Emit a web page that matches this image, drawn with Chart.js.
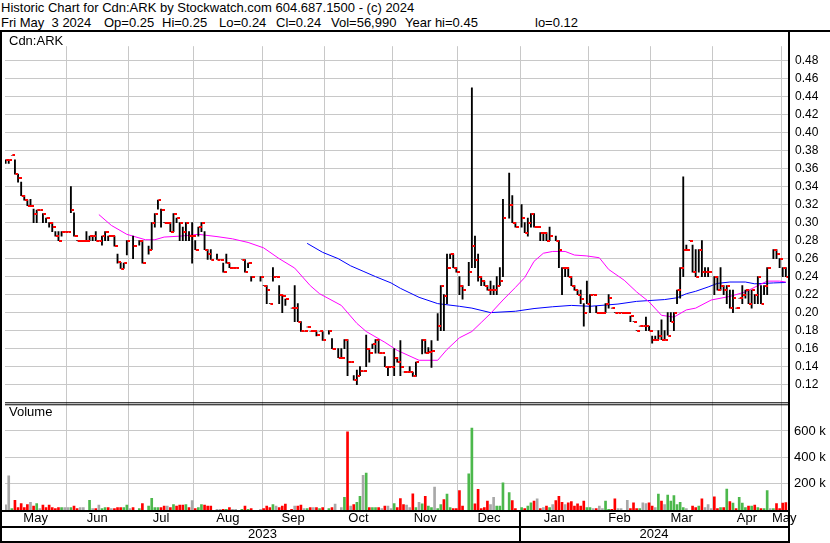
<!DOCTYPE html>
<html>
<head>
<meta charset="utf-8">
<script src="https://cdn.jsdelivr.net/npm/chart.js@4.4.1/dist/chart.umd.min.js"></script>
<style>
  body { margin: 0; background: #fff; font-family: Arial, "Liberation Sans", sans-serif; }
  #hdr { position: absolute; left: 0; top: 0; width: 830px; height: 30px; border-bottom: 2px solid #000;
         font-size: 13px; line-height: 15px; white-space: pre; }
  #hdr span { position: absolute; }
  #wrap { position: absolute; left: 0; top: 32px; width: 830px; height: 511px; }
  .tag { position: absolute; font-size: 13px; line-height: 15px; color: #000; }
</style>
</head>
<body>
<div id="hdr">
  <span style="left:1px;top:0">Historic Chart for Cdn:ARK by Stockwatch.com 604.687.1500 - (c) 2024</span>
  <span style="left:1px;top:15px">Fri May  3 2024</span>
  <span style="left:104px;top:15px">Op=0.25</span>
  <span style="left:162px;top:15px">Hi=0.25</span>
  <span style="left:219px;top:15px">Lo=0.24</span>
  <span style="left:276px;top:15px">Cl=0.24</span>
  <span style="left:331px;top:15px">Vol=56,990</span>
  <span style="left:405px;top:15px">Year hi=0.45</span>
  <span style="left:535px;top:15px">lo=0.12</span>
</div>
<div id="wrap">
  <canvas id="chart" width="830" height="511"></canvas>
  <div class="tag" style="left:9px;top:1px">Cdn:ARK</div>
  <div class="tag" style="left:9px;top:372px">Volume</div>
</div>
<script>
// daily bars, one per trading day (index 0 = early May 2023), null = no trade
const high = [
  .370,.370,.375,.370,.354,.345,.330,.325,.326,.315,
  .314,.314,.310,.305,.300,.300,.290,.290,.290,.290,
  .290,.340,.311,.280,.280,.280,.290,.285,.285,.290,
  .280,.285,.290,.285,.285,.285,.265,.256,.255,.280,
  null,.285,null,.280,.280,null,.274,.300,.310,.325,
  .315,.300,.300,.300,.310,.305,.300,.295,.300,.290,
  .300,.280,.295,.300,.290,.270,.270,null,.265,.259,
  .255,.265,.255,.250,.250,null,.259,.259,.255,.240,
  null,null,.240,.230,.230,.210,.250,.240,.230,.220,
  .215,null,.205,.230,.210,.190,.179,.184,.179,.179,
  .179,.179,.179,null,.180,.171,null,.160,.160,.170,
  .170,.145,.130,.136,.140,.135,.175,.160,.165,.170,
  .170,.155,.151,.140,.140,.160,.150,.169,.134,.134,
  .140,.134,.145,null,.170,.170,.161,.169,null,.199,
  .230,.220,.265,.265,.265,.250,.240,.230,null,.256,
  .450,.285,.265,.240,.235,.230,.235,.230,.240,.250,
  .326,null,.355,.330,.300,null,.320,.300,.305,.310,
  .310,.295,.289,.289,.289,.295,null,.285,.280,.250,
  .250,.250,.240,.230,.225,.225,.210,.235,.220,.220,
  .207,.200,.200,.210,.220,.205,.200,.200,.200,.200,
  .200,.196,.190,.180,.185,.185,.195,.185,.174,.174,
  .180,.192,.180,.200,.200,.200,.225,.250,.351,.275,
  .280,.275,.270,.270,.280,.250,.250,null,.240,.240,
  .250,.230,.230,.225,.225,.205,.216,.230,.225,.225,
  .225,.220,.240,.230,.230,.250,null,.270,.270,.260,
  .250,.250
];
const low = [
  .366,.366,.375,.354,.345,.330,.325,.319,.319,.300,
  .300,.314,.300,.300,.295,.290,.285,.280,.285,.290,
  .290,.311,.285,.280,.280,.280,.280,.280,.280,.280,
  .280,.275,.280,.280,.285,.274,.255,.249,.249,.264,
  null,.260,null,.275,.255,null,.265,.270,.295,.315,
  .295,.300,.300,.290,.290,.300,.280,.280,.280,.280,
  .255,.270,.285,.290,.270,.259,.259,null,.259,.259,
  .245,.255,.250,.250,.250,null,.259,.245,.250,.235,
  null,null,.235,.230,.210,.210,.235,.240,.210,.200,
  .208,null,.205,.190,.190,.179,.179,.184,.179,.179,
  .174,.179,.169,null,.176,.160,null,.150,.150,.160,
  .130,.145,.125,.120,.130,.135,.140,.145,.160,.155,
  .155,.155,.140,.130,.140,.130,.145,.130,.134,.134,
  .134,.129,.129,null,.154,.155,.155,.139,null,.169,
  .180,.180,.210,.260,.250,.245,.220,.215,null,.230,
  .250,.250,.235,.230,.230,.225,.220,.220,.220,.230,
  .240,null,.305,.300,.295,null,.295,.289,.285,.295,
  .295,.295,.280,.280,.280,.280,null,.280,.250,.220,
  .240,.240,.230,.225,.220,.210,.185,.210,.200,.220,
  .200,.200,.200,.200,.205,.205,.200,.200,.200,.200,
  .200,.190,.190,.180,.185,.185,.180,.180,.166,.170,
  .170,.170,.170,.175,.190,.180,.210,.216,.240,.270,
  .280,.245,.240,.245,.240,.240,.240,null,.220,.225,
  .225,.220,.210,.205,.200,.205,.216,.210,.216,.210,
  .205,.210,.210,.210,.220,.220,null,.260,.260,.250,
  .240,.240
];
const close = [
  .370,.370,.375,.354,.350,.330,.325,.319,.319,.310,
  .314,.314,.310,.305,.300,.295,.285,.280,.290,.290,
  .290,.314,.285,.280,.280,.280,.280,.285,.285,.280,
  .280,.285,.290,.285,.285,.274,.256,.249,.255,.280,
  null,.274,null,.280,.255,null,.270,.300,.310,.325,
  .314,.300,.300,.290,.310,.305,.300,.290,.300,.285,
  .285,.270,.295,.300,.270,.265,.259,null,.259,.259,
  .245,.255,.250,.250,.250,null,.259,.245,.255,.240,
  null,null,.240,.230,.225,.210,.240,.240,.220,.219,
  .215,null,.205,.205,.190,.179,.179,.184,.179,.179,
  .175,.179,.169,null,.179,.160,null,.150,.150,.170,
  .145,.145,.125,.130,.135,.135,.160,.155,.165,.170,
  .155,.155,.140,.140,.140,.150,.145,.139,.134,.134,
  .134,.129,.145,null,.170,.155,.156,.157,null,.185,
  .230,.219,.250,.265,.250,.245,.230,.225,null,.245,
  .274,.259,.240,.235,.230,.225,.225,.225,.230,.235,
  .305,null,.320,.300,.295,null,.305,.289,.300,.310,
  .295,.295,.289,.289,.280,.285,null,.280,.270,.250,
  .250,.240,.230,.225,.220,.215,.200,.210,.220,.220,
  .200,.200,.200,.210,.216,.205,.200,.200,.200,.200,
  .200,.196,.190,.180,.185,.185,.185,.180,.170,.170,
  .174,.170,.170,.174,.190,.200,.225,.250,.270,.270,
  .280,.245,.240,.270,.245,.245,.245,null,.240,.225,
  .230,.225,.230,.205,.216,.205,.216,.220,.225,.210,
  .225,.220,.240,.210,.230,.250,null,.270,.265,.260,
  .250,.240
];
// volume in thousands of shares
const volumeK = [
  40,259,10,74,18,49,18,42,59,30,
  49,10,37,18,37,18,10,18,18,18,
  18,18,30,10,18,18,0,74,10,10,
  37,10,18,18,10,10,18,18,18,37,
  10,18,0,10,49,0,30,89,18,18,
  18,30,30,18,42,30,37,37,42,18,
  72,10,18,42,37,30,30,0,5,5,
  5,5,18,5,5,0,5,30,5,10,
  0,0,5,10,30,18,42,30,18,30,
  44,0,5,30,30,37,10,10,18,18,
  18,10,18,0,10,18,44,0,18,96,
  593,30,42,59,104,264,281,18,18,18,
  18,10,30,30,10,49,18,87,42,37,
  18,123,18,59,47,104,30,18,173,10,
  42,79,121,18,10,10,148,30,0,274,
  622,47,156,10,18,67,42,96,30,30,
  207,0,133,72,10,0,18,10,30,54,
  67,84,10,18,30,18,42,72,104,59,
  42,54,64,30,47,30,67,18,18,10,
  10,30,10,67,5,5,84,10,10,0,
  74,10,54,10,10,54,49,54,30,18,
  121,67,42,114,67,109,42,59,18,10,
  0,30,18,30,84,18,42,10,99,10,
  18,18,158,64,52,10,96,52,18,30,
  30,37,18,10,10,148,10,10,49,10,
  52,57
];

// moving averages (day index, price)
const maShortDay = [30,34,39,45,48,51,56,62,68,73,78,83,88,93,98,101,108,113,116,122,126,133,139,142,146,150,153,156,160,164,167,170,173,176,180,183,187,191,194,199,203,207,211,215,219,222,227,233,238,242,245,249,251];
const maShortVal = [.309,.297,.287,.281,.281,.284,.285,.287,.2845,.282,.278,.272,.260,.2495,.230,.221,.208,.188,.179,.167,.158,.147,.147,.159,.172,.179,.189,.199,.214,.228,.239,.257,.266,.268,.268,.264,.263,.261,.248,.236,.223,.212,.197,.195,.203,.205,.214,.218,.223,.230,.235,.235,.234];
const maLongDay = [97,102,107,111,115,119,124,127,133,139,146,150,156,164,170,176,182,188,197,203,212,216,219,222,226,229,233,238,241,247,251];
const maLongVal = [.277,.267,.260,.252,.246,.240,.233,.227,.217,.210,.207,.205,.200,.2015,.2045,.2065,.208,.207,.2095,.2125,.2145,.2165,.221,.2237,.2285,.2325,.234,.234,.232,.233,.2335];

// calendar: first trading-day index of each month / year
const monthNames = ['May','Jun','Jul','Aug','Sep','Oct','Nov','Dec','Jan','Feb','Mar','Apr','May'];
const monthStart = [0,20,40,61,83,103,125,146,166,188,208,228,250];
const yearNames = ['2023','2024'];
const yearStart = [0,166];

const priceTicks = [0.12,0.14,0.16,0.18,0.20,0.22,0.24,0.26,0.28,0.30,0.32,0.34,0.36,0.38,0.40,0.42,0.44,0.46,0.48];
const volTicks = [200000,400000,600000];

const nDays = close.length;
const xMin = -0.2, xMax = nDays - 0.3;
const GRID = '#c8c8c8';

const ranges = [], closes = [], volumes = [], volColors = [];
let prev = null;
for (let i = 0; i < nDays; i++) {
  if (close[i] !== null) {
    ranges.push({x: i, y: [low[i], high[i]]});
    closes.push({x: i, y: close[i]});
  }
  if (volumeK[i] > 0) {
    volumes.push({x: i, y: volumeK[i] * 1000});
    let c = '#a8a8a8';
    if (close[i] !== null && prev !== null) {
      if (close[i] > prev) c = '#4cb84c';
      else if (close[i] < prev) c = '#ff0000';
    }
    volColors.push(c);
  }
  if (close[i] !== null) prev = close[i];
}

// red close tick, drawn to the right of the bar
const tick = document.createElement('canvas');
tick.width = 7; tick.height = 2;
const tctx = tick.getContext('2d');
tctx.fillStyle = '#ff0000';
tctx.fillRect(4, 0, 3, 2);

const monthMid = monthStart.map((d, i) => {
  const a = i === 0 ? xMin : d - 0.5;
  const b = i + 1 < monthStart.length ? monthStart[i + 1] - 0.5 : nDays - 0.5;
  return (a + b) / 2;
});
const yearMid = yearStart.map((d, i) => {
  const a = i === 0 ? xMin : d - 0.5;
  const b = i + 1 < yearStart.length ? yearStart[i + 1] - 0.5 : xMax;
  return (a + b) / 2;
});

const frame = {
  id: 'frame',
  afterDraw(chart) {
    const c = chart.ctx, a = chart.chartArea, s = chart.scales;
    const H = chart.height;
    c.save();
    c.fillStyle = '#000';
    c.fillRect(0, 0, 2, H);
    c.fillRect(a.right, 0, 2, H);
    const sep = s.y.bottom;
    c.fillRect(a.left, sep - 1, a.right - a.left, 1);
    c.fillRect(a.left, sep + 1, a.right - a.left, 1);
    c.fillRect(0, a.bottom, a.right + 2, 2);
    c.fillRect(0, s.xy.top, a.right + 2, 2);
    c.fillRect(0, H - 2, a.right + 2, 2);
    const xb = s.x.getPixelForValue(yearStart[1] - 0.5);
    c.fillRect(Math.round(xb) - 1, a.bottom, 2, H - a.bottom);
    c.restore();
  }
};

new Chart(document.getElementById('chart'), {
  type: 'bar',
  data: {
    datasets: [
      {
        type: 'line',
        data: closes,
        showLine: false,
        pointStyle: tick,
        pointRadius: 2,
        yAxisID: 'y',
        order: 0
      },
      {
        type: 'bar',
        data: ranges,
        backgroundColor: '#000',
        barThickness: 1.2,
        grouped: false,
        yAxisID: 'y',
        order: 1
      },
      {
        type: 'line',
        data: maShortDay.map((d, i) => ({x: d, y: maShortVal[i]})),
        borderColor: '#ff00ff',
        borderWidth: 1,
        pointRadius: 0,
        yAxisID: 'y',
        order: 2
      },
      {
        type: 'line',
        data: maLongDay.map((d, i) => ({x: d, y: maLongVal[i]})),
        borderColor: '#0000ff',
        borderWidth: 1,
        pointRadius: 0,
        yAxisID: 'y',
        order: 2
      },
      {
        type: 'bar',
        data: volumes,
        backgroundColor: volColors,
        barThickness: 2,
        grouped: false,
        yAxisID: 'yv',
        order: 3
      }
    ]
  },
  options: {
    responsive: false,
    animation: false,
    devicePixelRatio: 1,
    events: [],
    layout: { padding: { left: 2, right: 0, top: 0, bottom: 0 } },
    plugins: { legend: { display: false }, tooltip: { enabled: false } },
    scales: {
      x: {
        type: 'linear', position: 'bottom', min: xMin, max: xMax, offset: false, weight: 0,
        grid: { color: GRID, lineWidth: 1, drawTicks: false, offset: false },
        border: { display: false },
        ticks: { display: false },
        afterBuildTicks: s => { s.ticks = monthStart.slice(1).map(d => ({value: d - 0.5})); },
        afterFit: s => { s.height = 0; }
      },
      xm: {
        type: 'linear', position: 'bottom', min: xMin, max: xMax, offset: false, weight: 1,
        grid: { display: false, drawTicks: false },
        border: { display: false },
        ticks: {
          autoSkip: false, maxRotation: 0, padding: 1, color: '#000',
          font: { family: 'Arial, "Liberation Sans"', size: 13 },
          callback: (v, i) => monthNames[i]
        },
        afterBuildTicks: s => { s.ticks = monthMid.map(v => ({value: v})); },
        afterFit: s => { s.height = 16; }
      },
      xy: {
        type: 'linear', position: 'bottom', min: xMin, max: xMax, offset: false, weight: 2,
        grid: { display: false, drawTicks: false },
        border: { display: false },
        ticks: {
          autoSkip: false, maxRotation: 0, padding: 1, color: '#000',
          font: { family: 'Arial, "Liberation Sans"', size: 13 },
          callback: (v, i) => yearNames[i]
        },
        afterBuildTicks: s => { s.ticks = yearMid.map(v => ({value: v})); },
        afterFit: s => { s.height = 17; }
      },
      y: {
        type: 'linear', position: 'right', stack: 'panels', stackWeight: 368,
        min: 0.0992, max: 0.4962,
        grid: { color: GRID, lineWidth: 1, drawTicks: false },
        border: { display: false },
        ticks: {
          autoSkip: false, padding: 7, color: '#000',
          font: { family: 'Arial, "Liberation Sans"', size: 12 },
          callback: v => v.toFixed(2)
        },
        afterBuildTicks: s => { s.ticks = priceTicks.map(v => ({value: v})); },
        afterFit: s => { s.width = 42; }
      },
      yv: {
        type: 'linear', position: 'right', stack: 'panels', stackWeight: 110,
        min: 0, max: 810000,
        grid: { color: GRID, lineWidth: 1, drawTicks: false },
        border: { display: false },
        ticks: {
          autoSkip: false, padding: 6, color: '#000',
          font: { family: 'Arial, "Liberation Sans"', size: 13 },
          callback: v => (v / 1000) + ' k'
        },
        afterBuildTicks: s => { s.ticks = volTicks.map(v => ({value: v})); },
        afterFit: s => { s.width = 42; }
      }
    }
  },
  plugins: [frame]
});
</script>
</body>
</html>
